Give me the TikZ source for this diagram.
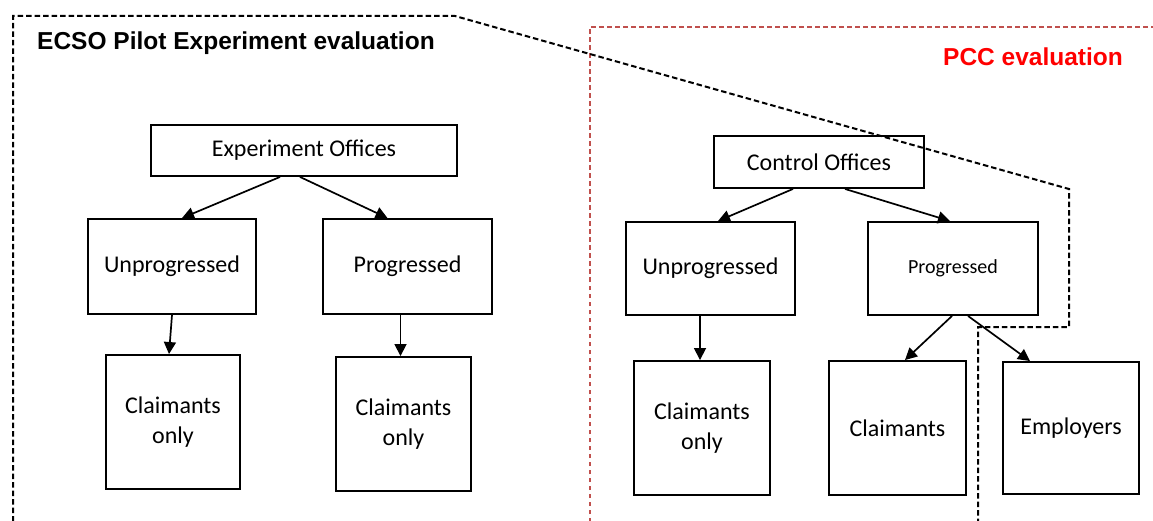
\documentclass[tikz,border=0pt]{standalone}
\usepackage{fontspec}
\setmainfont{Carlito}
\newfontfamily\headfont{Liberation Sans}
\usetikzlibrary{arrows.meta}

\definecolor{pccred}{RGB}{192,80,77}

\begin{document}
\begin{tikzpicture}[x = 1pt, y = -1pt, > = {Triangle[length = 12pt, width = 12pt]},
	box/.style 2 args = {draw, line width = 1.9pt, align = center, inner sep = 0pt,
		minimum width = #1, minimum height = #2, font = \fontsize{24}{30}\selectfont},
	link/.style = {->, line width = 1.7pt},
	area/.style = {line width = 2pt, dash pattern = on 5.5pt off 3pt},
	title/.style = {anchor = base west, inner sep = 0pt, font = \headfont\bfseries\fontsize{24.5}{29}\selectfont}]

	% Picture size

	\useasboundingbox (0, 0) rectangle (1153, 521);

	% Evaluation areas + titles

	\draw [area, pccred, dash pattern = on 4.5pt off 3.5pt] (590, 530) -- (590, 27) -- (1160, 27);
	\draw [area] (13, 530) -- (13, 16) -- (455, 16) -- (1069, 189) -- (1069, 327) -- (978, 327) -- (978, 530);

	\node [title] (ecso) at (37, 50) {ECSO Pilot Experiment evaluation};
	\node [title, text = red] (pcc) at (943, 66) {PCC evaluation};

	% Experiment offices tree

	\node [box = {306pt}{51pt}] (eo) at (304, 150.5) {Experiment Offices};
	\node [box = {168pt}{95pt}] (eu) at (172, 266.5) {Unprogressed};
	\node [box = {169pt}{95pt}] (ep) at (407.5, 266.5) {Progressed};
	\node [box = {134pt}{134pt}] (euc) at (173, 422) {Claimants\\only};
	\node [box = {135pt}{134pt}] (epc) at (403.5, 424) {Claimants\\only};

	\draw [link] ([xshift = -24pt] eo.south) -- ([xshift = 10pt] eu.north);
	\draw [link] ([xshift = -4pt] eo.south) -- ([xshift = -20pt] ep.north);
	\draw [link] (eu.south) -- ([xshift = -4pt] euc.north);
	\draw [link] ([xshift = -7pt] ep.south) -- ([xshift = -3pt] epc.north);

	% Control offices tree

	\node [box = {210pt}{52pt}] (co) at (819, 162) {Control Offices};
	\node [box = {169pt}{93pt}] (cu) at (710.5, 268.5) {Unprogressed};
	\node [box = {170pt}{93pt}, font = \fontsize{20}{24}\selectfont] (cp) at (953, 268.5) {Progressed};
	\node [box = {136pt}{134pt}] (cuc) at (702, 428) {Claimants\\only};
	\node [box = {137pt}{134pt}] (cpc) at (897.5, 428) {Claimants};
	\node [box = {136pt}{132pt}] (cpe) at (1071, 428) {Employers};

	\draw [link] ([xshift = -26pt] co.south) -- ([xshift = 7.5pt] cu.north);
	\draw [link] ([xshift = 26pt] co.south) -- ([xshift = -3pt] cp.north);
	\draw [link] ([xshift = -10.5pt] cu.south) -- ([xshift = -2pt] cuc.north);
	\draw [link] ([xshift = -1pt] cp.south) -- ([xshift = 7.5pt] cpc.north);
	\draw [link] ([xshift = 15pt] cp.south) -- ([xshift = -41pt] cpe.north);

\end{tikzpicture}
\end{document}
